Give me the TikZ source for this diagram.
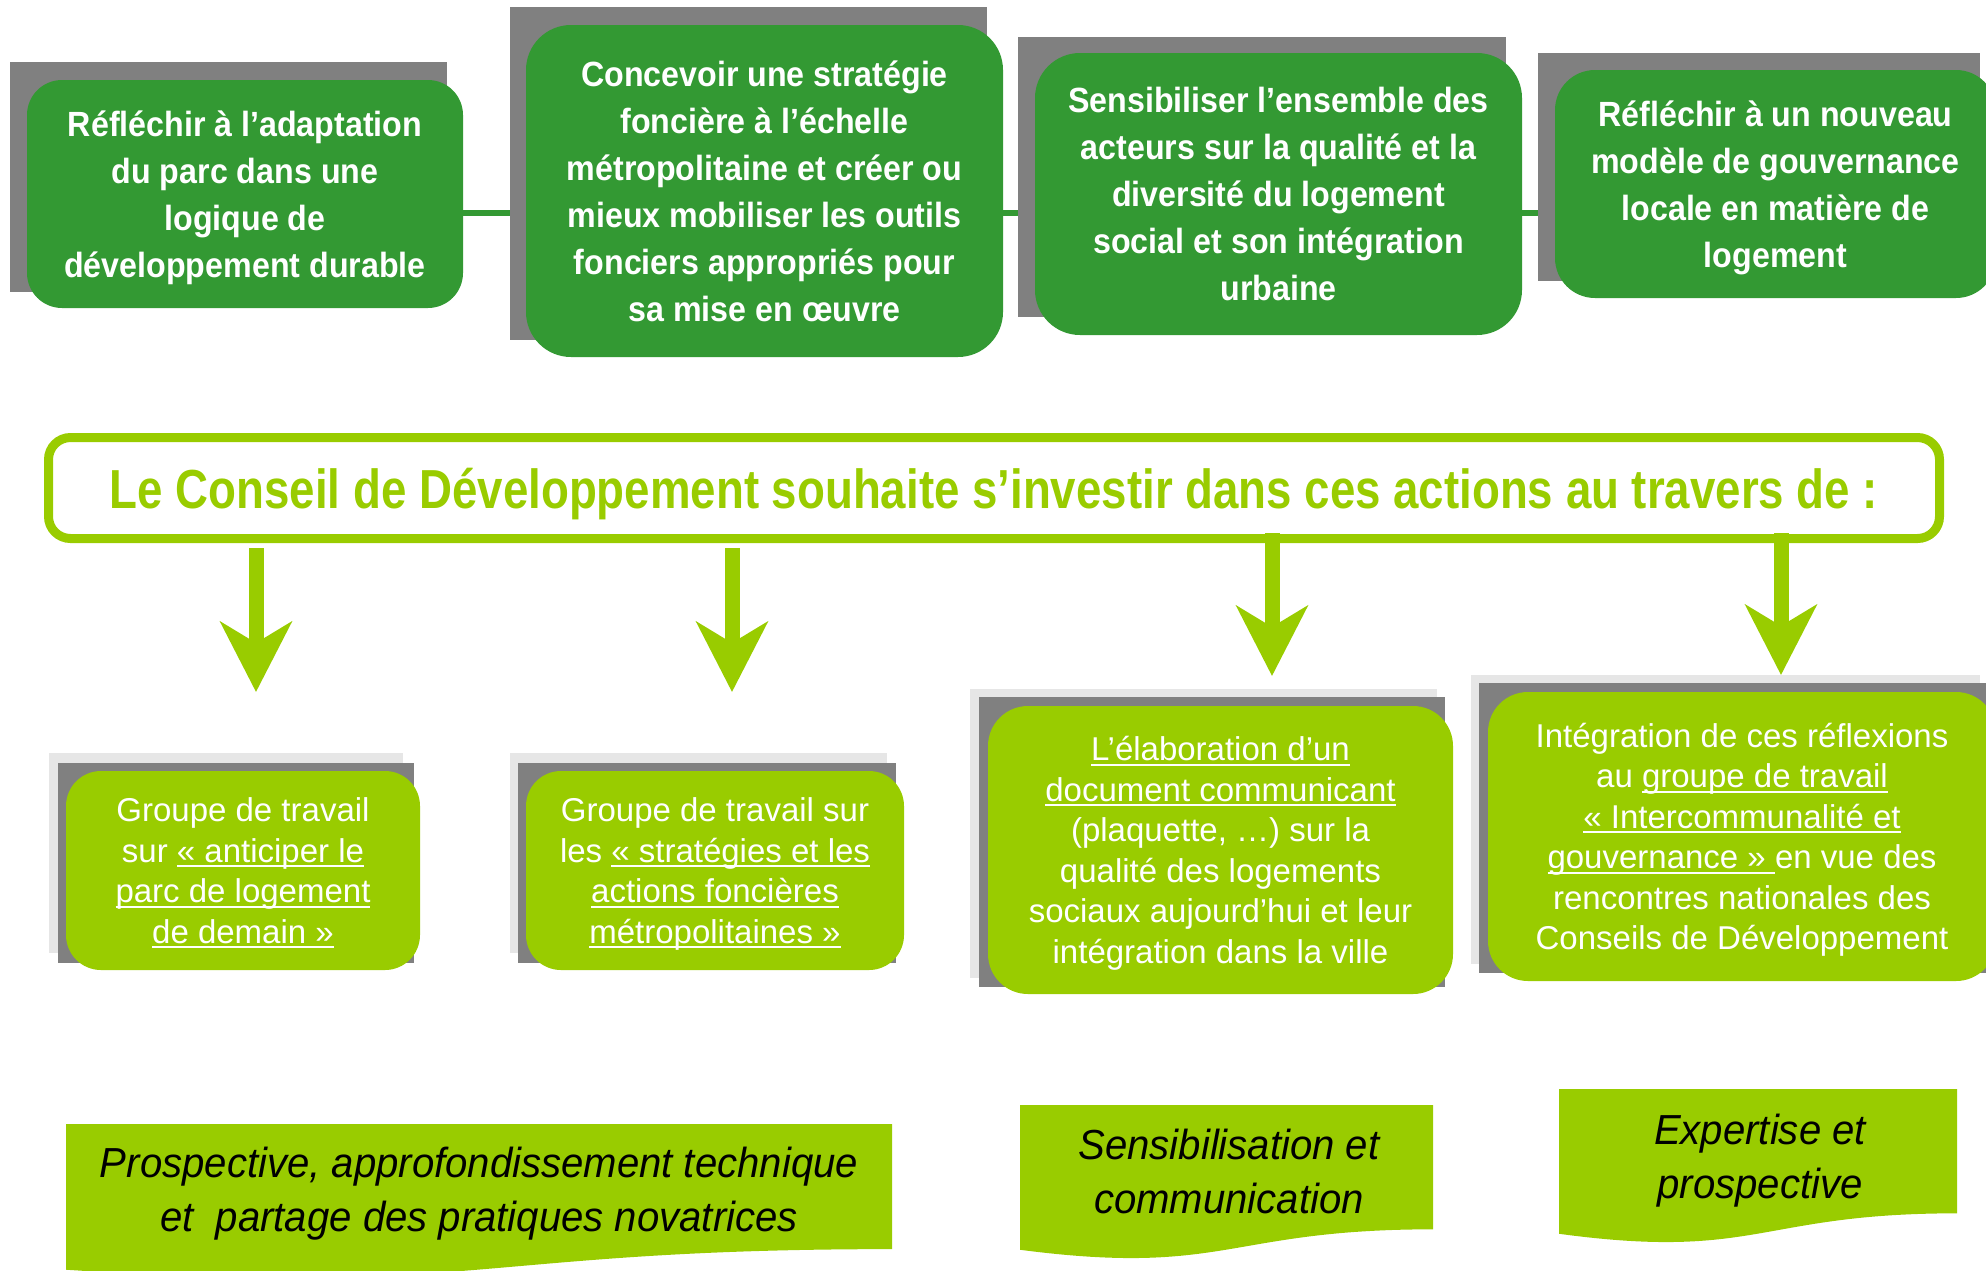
\documentclass[tikz,border=0pt]{standalone}
\usepackage{fontspec}
\setmainfont{Liberation Sans}
\newfontfamily\topfont[FakeStretch=0.92]{Liberation Sans}
\newfontfamily\titlefont[FakeStretch=0.83]{Liberation Sans}
\newfontfamily\tagfont[FakeStretch=0.955]{Liberation Sans}
\usepackage{xcolor}
\usetikzlibrary{arrows.meta}

\definecolor{cdgreen}{HTML}{339933}
\definecolor{cdlime}{HTML}{99CC00}
\definecolor{shadowgray}{HTML}{808080}
\definecolor{palegray}{HTML}{E6E6E6}

\newsavebox{\undlbox}
\newcommand{\undl}[1]{\sbox{\undlbox}{#1}\rlap{\rule[-5pt]{\wd\undlbox}{2pt}}\usebox{\undlbox}}
% left, top, width, height of a wavy tag
\newcommand{\docshape}[4]{%
	\fill[cdlime] (#1,#2) -- (#1+#3,#2) -- (#1+#3,#2+0.802*#4)
		.. controls (#1+0.5*#3,#2+0.802*#4) and (#1+0.5*#3,#2+1.1075*#4) .. (#1,#2+0.934*#4) -- cycle;}

\begin{document}
\begin{tikzpicture}[x=1pt,y=-1pt]
	%\draw[help lines] (0,0) grid (1986,1270);
	\useasboundingbox (0,0) rectangle (1986,1270);
	
	\tikzstyle{topbox} = [rectangle,fill=cdgreen,text=white,align=center,inner sep=0pt,text depth=0pt,font=\topfont\fontsize{35}{47}\selectfont\bfseries]
	\tikzstyle{subbox} = [rectangle,rounded corners=35pt,fill=cdlime,text=white,align=center,inner sep=0pt,text depth=-2pt,font=\fontsize{33}{40.5}\selectfont]
	\tikzstyle{titlebox} = [rectangle,draw=cdlime,line width=9pt,rounded corners=22pt,inner sep=0pt,text=cdlime,text height=40pt,text depth=0pt,font=\titlefont\fontsize{55}{60}\selectfont\bfseries]
	\tikzstyle{tagtext} = [align=center,inner sep=0pt,font=\tagfont\fontsize{42}{54}\selectfont\itshape]
	\tikzstyle{hlink} = [cdgreen,line width=6pt]
	\tikzstyle{downarrow} = [-{Stealth[length=70pt,width=71pt,inset=21pt]},cdlime,line width=15pt]
	
	% actions
	\fill[shadowgray] (10,62) rectangle (447,292);
	\fill[shadowgray] (510,7) rectangle (987,340);
	\fill[shadowgray] (1018,37) rectangle (1506,317);
	\fill[shadowgray] (1538,53) rectangle (1980,281);
	
	\node[topbox,rounded corners=35pt,minimum width=436pt,minimum height=228pt] (b1) at (245,194) {Réfléchir à l’adaptation\\du parc dans une\\logique de\\développement durable};
	\node[topbox,rounded corners=45pt,minimum width=477pt,minimum height=332pt] (b2) at (764.5,191) {Concevoir une stratégie\\foncière à l’échelle\\métropolitaine et créer ou\\mieux mobiliser les outils\\fonciers appropriés pour\\sa mise en œuvre};
	\node[topbox,rounded corners=45pt,minimum width=487pt,minimum height=282pt] (b3) at (1278.5,194) {Sensibiliser l’ensemble des\\acteurs sur la qualité et la\\diversité du logement\\social et son intégration\\urbaine};
	\node[topbox,rounded corners=40pt,minimum width=441pt,minimum height=228pt] (b4) at (1775.5,184) {Réfléchir à un nouveau\\modèle de gouvernance\\locale en matière de\\logement};
	
	\coordinate (row) at (0,213);
	\draw[hlink,shorten >=16pt] (b1.east |- row) -- (b2.west |- row);
	\draw[hlink,shorten >=17pt] (b2.east |- row) -- (b3.west |- row);
	\draw[hlink,shorten >=17pt] (b3.east |- row) -- (b4.west |- row);
	
	% council
	\node[titlebox,minimum width=1891pt,minimum height=101pt] (title) at (994,488) {Le Conseil de Développement souhaite s’investir dans ces actions au travers de~:};
	
	\coordinate (tipA) at (256,692);
	\coordinate (tipB) at (732,692);
	\coordinate (tipC) at (1272,676);
	\coordinate (tipD) at (1781,675);
	\draw[downarrow,shorten <=5pt] (title.south -| tipA) -- (tipA);
	\draw[downarrow,shorten <=5pt] (title.south -| tipB) -- (tipB);
	\draw[downarrow,shorten <=-10pt] (title.south -| tipC) -- (tipC);
	\draw[downarrow,shorten <=-10pt] (title.south -| tipD) -- (tipD);
	
	% means
	\fill[palegray] (49,753) rectangle (403,953);
	\fill[shadowgray] (58,763) rectangle (414,963);
	\fill[palegray] (510,753) rectangle (887,953);
	\fill[shadowgray] (518,763) rectangle (896,963);
	\fill[palegray] (970,689) rectangle (1437,978);
	\fill[shadowgray] (979,697) rectangle (1445,987);
	\fill[palegray] (1471,675) rectangle (1980,964);
	\fill[shadowgray] (1479,683) rectangle (1988,973);
	
	\node[subbox,minimum width=354pt,minimum height=199pt] (gA) at (243,870.5) {Groupe de travail\\sur \undl{«~anticiper le}\\\undl{parc de logement}\\\undl{de demain~»}};
	\node[subbox,minimum width=378pt,minimum height=199pt] (gB) at (715,870.5) {Groupe de travail sur\\les \undl{«~stratégies et les}\\\undl{actions foncières}\\\undl{métropolitaines~»}};
	\node[subbox,rounded corners=40pt,minimum width=465pt,minimum height=288pt] (gC) at (1220.5,850) {\undl{L’élaboration d’un}\\\undl{document communicant}\\(plaquette, …) sur la\\qualité des logements\\sociaux aujourd’hui et leur\\intégration dans la ville};
	\node[subbox,rounded corners=40pt,minimum width=508pt,minimum height=289pt] (gD) at (1742,836.5) {Intégration de ces réflexions\\au \undl{groupe de travail}\\\undl{«~Intercommunalité et}\\\undl{gouvernance~» }en vue des\\rencontres nationales des\\Conseils de Développement};
	
	% roles
	\docshape{66}{1124}{826}{156}
	\docshape{1020}{1105}{413}{155}
	\docshape{1559}{1089}{398}{155}
	
	\node[tagtext] (t1) at (479,1194) {Prospective, approfondissement technique\\et\ \ partage des pratiques novatrices};
	\node[tagtext] (t2) at (1229,1171) {Sensibilisation et\\communication};
	\node[tagtext] (t3) at (1760,1161) {Expertise et\\prospective};

\end{tikzpicture}
\end{document}
